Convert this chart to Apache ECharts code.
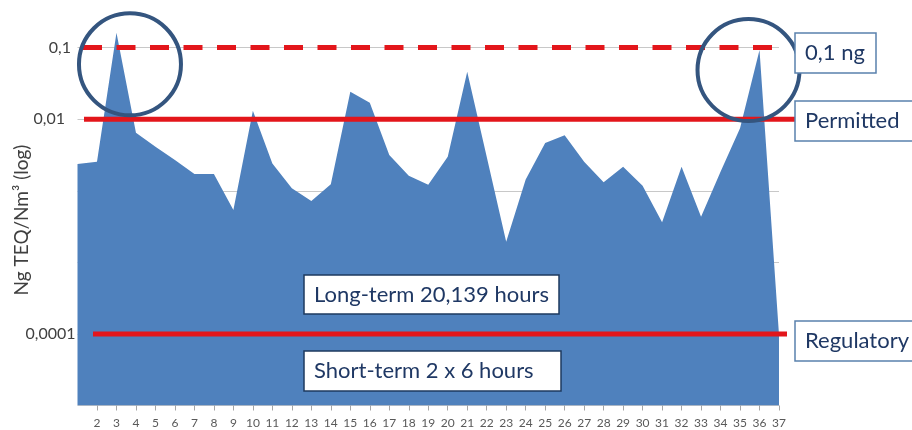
<!DOCTYPE html>
<html>
<head>
<meta charset="utf-8">
<title>Ng TEQ/Nm3 (log)</title>
<script src="https://cdn.jsdelivr.net/npm/echarts@6/dist/echarts.min.js"></script>
<style>html,body{margin:0;padding:0;background:#fff;}</style>
</head>
<body>
<div id="main" style="width:912px;height:430px;"></div>
<script>
// hour 1 is cut off by the left edge, only 2..37 carry a label
var hours = ['1','2','3','4','5','6','7','8','9','10','11','12','13','14','15','16','17','18','19',
             '20','21','22','23','24','25','26','27','28','29','30','31','32','33','34','35','36','37'];
var teq = [0.00236, 0.00254, 0.161, 0.00646, 0.00412, 0.00268, 0.00171, 0.00171, 0.000537, 0.0131,
           0.00241, 0.00108, 0.000718, 0.00123, 0.0241, 0.0169, 0.00315, 0.00162, 0.00121, 0.00299,
           0.0459, 0.00299, 0.000194, 0.00144, 0.00464, 0.00594, 0.00254, 0.00131, 0.00216, 0.00117,
           0.000362, 0.00216, 0.000434, 0.00184, 0.00744, 0.0923, 0.0000097];

// tick labels as written on the slide (decade exponent -> text)
var yTickExp = [-1, -2, -5];
var yTickLabels = ['0,1', '0,01', '0,0001'];

// limit lines and their boxes
var limitValues = [0.1, 0.01, 0.00001];
var limitNames = ['0,1 ng', 'Permitted', 'Regulatory'];
var noteTexts = ['Long-term 20,139 hours', 'Short-term 2 x 6 hours'];

var RED = '#e3161b';
var NAVY = '#1f3864';
var FONT = 'Lato';

var myChart = echarts.init(document.getElementById('main'));

// the hand placed labels do not line up, nudge them like on the slide
var labelPad = [4.5, 10.5, 0];
var labelRich = {};
labelPad.forEach(function (p, k) {
    labelRich['t' + k] = {padding: [0, p, 0, 0], fontSize: 16, fontFamily: FONT, color: '#404040'};
});

var option = {
    animation: false,
    grid: {left: 77.5, right: 133, top: -24, bottom: 24.5, outerBoundsMode: 'none'},
    xAxis: {
        type: 'category',
        boundaryGap: false,
        data: hours,
        axisLine: {show: false},
        axisTick: {
            show: true,
            length: 5,
            interval: function (i) { return i > 0; },
            lineStyle: {color: '#a6a6a6'}
        },
        axisLabel: {
            interval: function (i) { return i > 0; },
            margin: 12,
            fontSize: 12,
            fontFamily: FONT,
            color: '#595959'
        },
        splitLine: {show: false}
    },
    yAxis: {
        type: 'log',
        logBase: 10,
        min: 0.000001,
        max: 1,
        splitNumber: 6,
        axisLine: {show: false},
        axisTick: {show: false},
        axisLabel: {
            margin: 2,
            fontSize: 16,
            fontFamily: FONT,
            color: '#404040',
            rich: labelRich,
            formatter: function (v) {
                var i = yTickExp.indexOf(Math.round(Math.log10(v)));
                return i < 0 ? '' : '{t' + i + '|' + yTickLabels[i] + '}';
            }
        },
        splitLine: {show: true, lineStyle: {color: '#c8c8c8', width: 1}}
    },
    series: [{
        type: 'line',
        data: teq,
        symbol: 'none',
        lineStyle: {width: 0},
        areaStyle: {color: '#4f81bd', opacity: 1}
    }]
};
myChart.setOption(option);

// annotations drawn on top, placed with the chart's own scales
function py(v) { return myChart.convertToPixel({yAxisIndex: 0}, v); }
function pt(i) { return myChart.convertToPixel({seriesIndex: 0}, [i, teq[i]]); }

var gfx = [];
var lineX = [[83, 777], [84, 795], [93, 787]];
limitValues.forEach(function (v, k) {
    var y = py(v);
    gfx.push({
        type: 'line', z: 10,
        shape: {x1: lineX[k][0], y1: y, x2: lineX[k][1], y2: y},
        style: {stroke: RED, lineWidth: 5, lineDash: k === 0 ? [19, 14.5] : null}
    });
});

function box(x, y, w, h, txt, stroke) {
    gfx.push({type: 'rect', z: 20, shape: {x: x, y: y, width: w, height: h},
        style: {fill: '#fff', stroke: stroke, lineWidth: 1.5}});
    gfx.push({type: 'text', z: 21, x: x + 10, y: y + h / 2,
        style: {text: txt, fill: NAVY, font: '22px ' + FONT, textVerticalAlign: 'middle', verticalAlign: 'middle'}});
}
var limitBoxTop = [33, 101, 321];
var limitBoxW = [81, 130, 130];
limitNames.forEach(function (n, k) { box(795, limitBoxTop[k], limitBoxW[k], 40, n, '#5a81ad'); });
box(304, 275, 255, 39, noteTexts[0], '#1e3a5f');
box(304, 351, 257, 40, noteTexts[1], '#1e3a5f');

// rings round the two peaks
var p3 = pt(2), p36 = pt(35);
[[p3[0] + 13.5, p3[1] + 31.5], [p36[0] - 11, p36[1] + 20]].forEach(function (c) {
    gfx.push({type: 'circle', z: 15, shape: {cx: c[0], cy: c[1], r: 51},
        style: {fill: null, stroke: '#34557f', lineWidth: 4}});
});

// axis title
gfx.push({type: 'text', z: 5, x: 22, y: 220, rotation: Math.PI / 2,
    style: {text: 'Ng TEQ/Nm\u00b3 (log)', fill: '#404040', font: '19px ' + FONT,
        textAlign: 'center', align: 'center', verticalAlign: 'middle', textVerticalAlign: 'middle'}});

myChart.setOption({graphic: gfx});
</script>
</body>
</html>
